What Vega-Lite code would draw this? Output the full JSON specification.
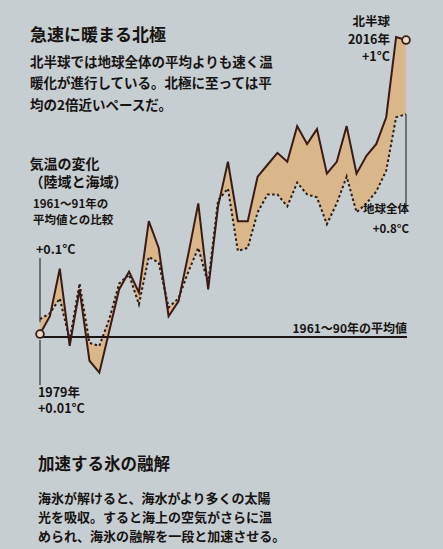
{
  "$schema": "https://vega.github.io/schema/vega-lite/v6.json",
  "width": 443,
  "height": 549,
  "autosize": {"type": "fit", "contains": "padding"},
  "padding": 0,
  "background": "#c7ced1",
  "config": {
    "view": {"stroke": null},
    "text": {"font": "Noto Sans CJK JP", "fontWeight": "bold", "color": "#161311"}
  },
  "datasets": {
    "temps": [
      {"year": 1979, "nh": 0.01, "global": 0.06},
      {"year": 1980, "nh": 0.07, "global": 0.08},
      {"year": 1981, "nh": 0.23, "global": 0.13},
      {"year": 1982, "nh": -0.03, "global": -0.01},
      {"year": 1983, "nh": 0.16, "global": 0.18},
      {"year": 1984, "nh": -0.08, "global": -0.02},
      {"year": 1985, "nh": -0.12, "global": -0.03},
      {"year": 1986, "nh": 0.02, "global": 0.06},
      {"year": 1987, "nh": 0.16, "global": 0.18},
      {"year": 1988, "nh": 0.22, "global": 0.21},
      {"year": 1989, "nh": 0.15, "global": 0.11},
      {"year": 1990, "nh": 0.39, "global": 0.27},
      {"year": 1991, "nh": 0.30, "global": 0.25},
      {"year": 1992, "nh": 0.07, "global": 0.10},
      {"year": 1993, "nh": 0.12, "global": 0.13},
      {"year": 1994, "nh": 0.28, "global": 0.22},
      {"year": 1995, "nh": 0.45, "global": 0.30},
      {"year": 1996, "nh": 0.16, "global": 0.18},
      {"year": 1997, "nh": 0.44, "global": 0.46},
      {"year": 1998, "nh": 0.59, "global": 0.50},
      {"year": 1999, "nh": 0.39, "global": 0.29},
      {"year": 2000, "nh": 0.39, "global": 0.30},
      {"year": 2001, "nh": 0.54, "global": 0.42},
      {"year": 2002, "nh": 0.58, "global": 0.48},
      {"year": 2003, "nh": 0.62, "global": 0.48},
      {"year": 2004, "nh": 0.59, "global": 0.44},
      {"year": 2005, "nh": 0.71, "global": 0.52},
      {"year": 2006, "nh": 0.65, "global": 0.48},
      {"year": 2007, "nh": 0.70, "global": 0.47},
      {"year": 2008, "nh": 0.55, "global": 0.38},
      {"year": 2009, "nh": 0.59, "global": 0.45},
      {"year": 2010, "nh": 0.71, "global": 0.54},
      {"year": 2011, "nh": 0.55, "global": 0.42},
      {"year": 2012, "nh": 0.61, "global": 0.45},
      {"year": 2013, "nh": 0.65, "global": 0.49},
      {"year": 2014, "nh": 0.74, "global": 0.56},
      {"year": 2015, "nh": 1.01, "global": 0.74},
      {"year": 2016, "nh": 1.00, "global": 0.75}
    ],
    "one": [{}]
  },
  "data": {"name": "temps"},
  "layer": [
    {
      "mark": {"type": "area", "color": "#dab78b", "opacity": 1},
      "encoding": {
        "x": {"field": "year", "type": "quantitative", "axis": null, "scale": {"domain": [1974.956, 2019.74], "nice": false, "zero": false}},
        "y": {"field": "global", "type": "quantitative", "axis": null, "scale": {"domain": [-0.7138, 1.1347], "nice": false, "zero": false}},
        "y2": {"field": "nh"}
      }
    },
    {
      "data": {"name": "one"},
      "mark": {"type": "rule", "color": "#1a1412", "strokeWidth": 2},
      "encoding": {
        "x": {"datum": 1979, "type": "quantitative"},
        "x2": {"datum": 2016.1},
        "y": {"datum": 0, "type": "quantitative"}
      }
    },
    {
      "data": {"name": "one"},
      "mark": {"type": "rule", "color": "#1a1412", "strokeWidth": 1},
      "encoding": {
        "x": {"datum": 1979, "type": "quantitative"},
        "y": {"datum": 0.266, "type": "quantitative"},
        "y2": {"datum": 0.05}
      }
    },
    {
      "data": {"name": "one"},
      "mark": {"type": "rule", "color": "#1a1412", "strokeWidth": 1},
      "encoding": {
        "x": {"datum": 1979, "type": "quantitative"},
        "y": {"datum": -0.01, "type": "quantitative"},
        "y2": {"datum": -0.162}
      }
    },
    {
      "data": {"name": "one"},
      "mark": {"type": "rule", "color": "#1a1412", "strokeWidth": 1},
      "encoding": {
        "x": {"datum": 2016, "type": "quantitative"},
        "y": {"datum": 0.75, "type": "quantitative"},
        "y2": {"datum": 0.44}
      }
    },
    {
      "mark": {"type": "line", "color": "#2a1915", "strokeWidth": 2, "strokeDash": [2.5, 2.5]},
      "encoding": {
        "x": {"field": "year", "type": "quantitative"},
        "y": {"field": "global", "type": "quantitative"}
      }
    },
    {
      "mark": {"type": "line", "color": "#3a1a15", "strokeWidth": 2},
      "encoding": {
        "x": {"field": "year", "type": "quantitative"},
        "y": {"field": "nh", "type": "quantitative"}
      }
    },
    {
      "transform": [{"filter": "datum.year == 1979 || datum.year == 2016"}],
      "mark": {"type": "point", "shape": "circle", "size": 60, "filled": true, "fill": "#e8dccb", "stroke": "#3a1a15", "strokeWidth": 1.8, "opacity": 1},
      "encoding": {
        "x": {"field": "year", "type": "quantitative"},
        "y": {"field": "nh", "type": "quantitative"}
      }
    },
    {
      "data": {"name": "one"},
      "mark": {"type": "text", "align": "left", "baseline": "middle", "fontSize": 17},
      "encoding": {
        "x": {"datum": 1977.99, "type": "quantitative"},
        "y": {"datum": 1.0135, "type": "quantitative"},
        "text": {"value": "急速に暖まる北極"}
      }
    },
    {
      "data": {"name": "one"},
      "mark": {"type": "text", "align": "left", "baseline": "middle", "fontSize": 13.5, "lineHeight": 21.5},
      "encoding": {
        "x": {"datum": 1977.99, "type": "quantitative"},
        "y": {"datum": 0.9226, "type": "quantitative"},
        "text": {"value": ["北半球では地球全体の平均よりも速く温", "暖化が進行している。北極に至っては平", "均の2倍近いペースだ。"]}
      }
    },
    {
      "data": {"name": "one"},
      "mark": {"type": "text", "align": "left", "baseline": "middle", "fontSize": 14, "lineHeight": 18},
      "encoding": {
        "x": {"datum": 1977.95, "type": "quantitative"},
        "y": {"datum": 0.5791, "type": "quantitative"},
        "text": {"value": ["気温の変化", "（陸域と海域）"]}
      }
    },
    {
      "data": {"name": "one"},
      "mark": {"type": "text", "align": "left", "baseline": "middle", "fontSize": 11.5, "lineHeight": 16.5},
      "encoding": {
        "x": {"datum": 1978.29, "type": "quantitative"},
        "y": {"datum": 0.4445, "type": "quantitative"},
        "text": {"value": ["1961～91年の", "平均値との比較"]}
      }
    },
    {
      "data": {"name": "one"},
      "mark": {"type": "text", "align": "left", "baseline": "middle", "fontSize": 12.5},
      "encoding": {
        "x": {"datum": 1978.595, "type": "quantitative"},
        "y": {"datum": 0.2929, "type": "quantitative"},
        "text": {"value": "+0.1°C"}
      }
    },
    {
      "data": {"name": "one"},
      "mark": {"type": "text", "align": "left", "baseline": "middle", "fontSize": 12.5, "lineHeight": 16},
      "encoding": {
        "x": {"datum": 1978.797, "type": "quantitative"},
        "y": {"datum": -0.1885, "type": "quantitative"},
        "text": {"value": ["1979年", "+0.01°C"]}
      }
    },
    {
      "data": {"name": "one"},
      "mark": {"type": "text", "align": "right", "baseline": "middle", "fontSize": 12.5, "lineHeight": 17.5},
      "encoding": {
        "x": {"datum": 2014.38, "type": "quantitative"},
        "y": {"datum": 1.0606, "type": "quantitative"},
        "text": {"value": ["北半球", "2016年", "+1°C"]}
      }
    },
    {
      "data": {"name": "one"},
      "mark": {"type": "text", "align": "right", "baseline": "middle", "fontSize": 11.5, "lineHeight": 20},
      "encoding": {
        "x": {"datum": 2016.3, "type": "quantitative"},
        "y": {"datum": 0.4276, "type": "quantitative"},
        "text": {"value": ["地球全体", "+0.8°C"]}
      }
    },
    {
      "data": {"name": "one"},
      "mark": {"type": "text", "align": "right", "baseline": "middle", "fontSize": 12},
      "encoding": {
        "x": {"datum": 2016.1, "type": "quantitative"},
        "y": {"datum": 0.027, "type": "quantitative"},
        "text": {"value": "1961～90年の平均値"}
      }
    },
    {
      "data": {"name": "one"},
      "mark": {"type": "text", "align": "left", "baseline": "middle", "fontSize": 16.5},
      "encoding": {
        "x": {"datum": 1978.797, "type": "quantitative"},
        "y": {"datum": -0.431, "type": "quantitative"},
        "text": {"value": "加速する氷の融解"}
      }
    },
    {
      "data": {"name": "one"},
      "mark": {"type": "text", "align": "left", "baseline": "middle", "fontSize": 13, "lineHeight": 19},
      "encoding": {
        "x": {"datum": 1978.797, "type": "quantitative"},
        "y": {"datum": -0.5455, "type": "quantitative"},
        "text": {"value": ["海氷が解けると、海水がより多くの太陽", "光を吸収。すると海上の空気がさらに温", "められ、海氷の融解を一段と加速させる。"]}
      }
    }
  ]
}
